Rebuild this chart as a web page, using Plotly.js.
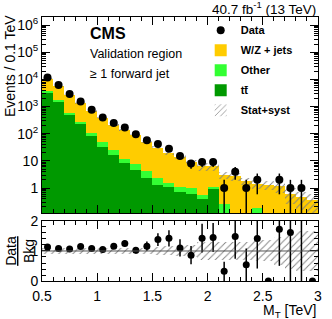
<!DOCTYPE html>
<html><head><meta charset="utf-8">
<script src="https://cdn.plot.ly/plotly-3.0.1.min.js"></script>
<style>html,body{margin:0;padding:0;background:#fff}#plot{width:332px;height:319px}</style>
</head><body><div id="plot"></div>
<script>
// M_T bin centers (TeV), bin width 0.1 TeV
const binCenters = [0.55,0.65,0.75,0.85,0.95,1.05,1.15,1.25,1.35,1.45,1.55,1.65,1.75,1.85,1.95,2.05,2.15,2.25,2.35,2.45,2.55,2.65,2.75,2.85,2.95];
const dataCounts = [11800,6300,2900,1550,760,400,247,171,95,58,42,28,15,8,9,9,1,4,1,2,0,2,1,1,0];
const ttbar  = [3080,1470,510,225,85,32,17,8.3,4.8,2.4,1.3,1.05,0.73,0.6,0.4,0.95,0,0,0,0,0,0,0,0,0];
const other  = [720,270,90,35,21,16,8,3.1,3.1,1.9,1.1,0.45,0.32,0.4,0.17,0.1,0.26,0,0,0.18,0,0,0,0,0];
const wzJets = [6640,4090,2110,1090,594,333,188,125.6,85.1,45.7,28.0,18.2,12.55,8.3,5.73,5.15,2.84,2.7,1.85,1.23,1.3,1.16,0.62,0.45,0.35];
const relUnc = [0.09,0.09,0.09,0.09,0.09,0.09,0.09,0.09,0.09,0.1,0.12,0.15,0.17,0.2,0.3,0.3,0.3,0.3,0.3,0.35,0.35,0.45,0.6,0.65,0.65];
const yTickVals = [1,10,100,1000,10000,100000,1000000];
const yTickText = ['1','10','10<sup>2</sup>','10<sup>3</sup>','10<sup>4</sup>','10<sup>5</sup>','10<sup>6</sup>'];

const baseOther = ttbar.slice();
const baseWZ = ttbar.map((v,i)=>v+other[i]);
const total = baseWZ.map((v,i)=>v+wzJets[i]);
const uncLow = total.map((v,i)=>v*(1-relUnc[i]));
const uncH = total.map((v,i)=>2*v*relUnc[i]);
const dataMain = dataCounts.map(v=>v>0?v:null);
const dataErrUp = dataCounts.map(v=>Math.sqrt(v));
const dataErrDn = dataCounts.map(v=>Math.min(Math.sqrt(v), v*0.999));
const ratio = dataCounts.map((v,i)=>v/total[i]);
const ratioErr = dataCounts.map((v,i)=>v>0?ratio[i]/Math.sqrt(v):0);
const rLow = relUnc.map(u=>1-u);
const rH = relUnc.map(u=>2*u);

const minorVals = [];
for (let d=-1; d<=6; d++) for (let k=2; k<=9; k++) minorVals.push(k*Math.pow(10,d));

const FONT = 'Liberation Sans, Arial, Helvetica, sans-serif';
const hatch = {shape:'/', fgcolor:'#808080', bgcolor:'rgba(0,0,0,0)', size:5, solidity:0.18};

const traces = [
  {type:'bar', x:binCenters, y:ttbar, width:0.1, marker:{color:'#009900', line:{width:0}}, name:'<b>t\u0074\u0304</b>', legendrank:4, legendgroup:'g4', xaxis:'x', yaxis:'y', hoverinfo:'skip'},
  {type:'bar', x:binCenters, y:other, base:baseOther, width:0.1, marker:{color:'#33ff33', line:{width:0}}, name:'<b>Other</b>', legendrank:3, legendgroup:'g3', xaxis:'x', yaxis:'y', hoverinfo:'skip'},
  {type:'bar', x:binCenters, y:wzJets, base:baseWZ, width:0.1, marker:{color:'#ffcc00', line:{width:0}}, name:'<b>W/Z + jets</b>', legendrank:2, legendgroup:'g2', xaxis:'x', yaxis:'y', hoverinfo:'skip'},
  {type:'bar', x:binCenters, y:uncH, base:uncLow, width:0.1, marker:{color:'rgba(0,0,0,0)', line:{width:0}, pattern:hatch}, name:'<b>Stat+syst</b>', legendrank:5, legendgroup:'g5', xaxis:'x', yaxis:'y', hoverinfo:'skip'},
  {type:'scatter', mode:'markers', x:binCenters, y:dataMain, marker:{color:'#000', size:8},
   error_y:{type:'data', symmetric:false, array:dataErrUp, arrayminus:dataErrDn, color:'#000', thickness:1.5, width:0},
   name:'<b>Data</b>', legendrank:1, legendgroup:'g1', xaxis:'x', yaxis:'y'},
  {type:'bar', x:binCenters, y:rH, base:rLow, width:0.1, marker:{color:'rgba(0,0,0,0)', line:{width:0}, pattern:hatch}, showlegend:false, xaxis:'x2', yaxis:'y2', hoverinfo:'skip'},
  {type:'scatter', mode:'markers', x:binCenters, y:ratio, marker:{color:'#000', size:7},
   error_y:{type:'data', array:ratioErr, color:'#000', thickness:1.5, width:0},
   showlegend:false, xaxis:'x2', yaxis:'y2'}
];

const axCommon = {showline:true, linecolor:'#000', linewidth:1, mirror:'allticks', ticks:'inside', tickcolor:'#000', showgrid:false, zeroline:false};

const layout = {
  width:332, height:319, margin:{l:42, r:14, t:17, b:38},
  paper_bgcolor:'#fff', plot_bgcolor:'#fff',
  font:{family:FONT, size:14, color:'#000'},
  barmode:'overlay', bargap:0,
  showlegend:true,
  legend:{x:0.575, y:1.005, xanchor:'left', yanchor:'top', bgcolor:'rgba(0,0,0,0)', font:{size:11, family:FONT}, traceorder:'grouped', itemwidth:30, tracegroupgap:1},
  xaxis:Object.assign({}, axCommon, {domain:[0,1], anchor:'y', range:[0.5,3], showticklabels:false, tick0:0.5, dtick:0.5, ticklen:8, minor:{ticks:'inside', dtick:0.1, tick0:0.5, ticklen:4, tickcolor:'#000'}}),
  yaxis:Object.assign({}, axCommon, {domain:[0.2576,1], anchor:'x', type:'log', range:[-0.921,6.301], tickmode:'array', tickvals:yTickVals, ticktext:yTickText, ticklen:8, tickfont:{size:14}, ticklabelstandoff:0, minor:{ticks:'inside', tickmode:'array', tickvals:minorVals, ticklen:4, tickcolor:'#000'}}),
  xaxis2:Object.assign({}, axCommon, {domain:[0,1], anchor:'y2', range:[0.5,3], tick0:0.5, dtick:0.5, ticklen:8, tickfont:{size:14}, ticklabelstandoff:2, minor:{ticks:'inside', dtick:0.1, tick0:0.5, ticklen:4, tickcolor:'#000'}}),
  yaxis2:Object.assign({}, axCommon, {domain:[0,0.2273], anchor:'x2', range:[0,2], tick0:0, dtick:1, ticklen:8, tickfont:{size:14}, ticklabelstandoff:0, minor:{ticks:'inside', dtick:0.2, ticklen:4, tickcolor:'#000'}}),
  shapes:[{type:'line', xref:'x2', yref:'y2', x0:0.5, x1:3, y0:1, y1:1, line:{color:'#555', width:1}}],
  annotations:[
    {text:'<b>CMS</b>', xref:'paper', yref:'paper', x:0.1667, y:0.939, xanchor:'left', yanchor:'middle', showarrow:false, font:{size:16}},
    {text:'Validation region', xref:'paper', yref:'paper', x:0.1667, y:0.860, xanchor:'left', yanchor:'middle', showarrow:false, font:{size:12.5}},
    {text:'\u2265 1 forward jet', xref:'paper', yref:'paper', x:0.1667, y:0.784, xanchor:'left', yanchor:'middle', showarrow:false, font:{size:12.5}},
    {text:'40.7 fb<sup>-1</sup> (13 TeV)', xref:'paper', yref:'paper', x:1, y:1.034, xanchor:'right', yanchor:'middle', showarrow:false, font:{size:13.5}},
    {text:'Events / 0.1 TeV', xref:'paper', yref:'paper', x:-0.116, y:0.814, xanchor:'center', yanchor:'middle', textangle:-90, showarrow:false, font:{size:14}},
    {text:'<u>Data</u><br>Bkg', xref:'paper', yref:'paper', x:-0.08, y:0.114, xanchor:'center', yanchor:'middle', textangle:-90, showarrow:false, font:{size:14}},
    {text:'M<sub>T</sub> [TeV]', xref:'paper', yref:'paper', x:1, y:-0.115, xanchor:'right', yanchor:'middle', showarrow:false, font:{size:14}}
  ]
};

Plotly.newPlot('plot', traces, layout, {staticPlot:true, displayModeBar:false});
</script>
</body></html>
